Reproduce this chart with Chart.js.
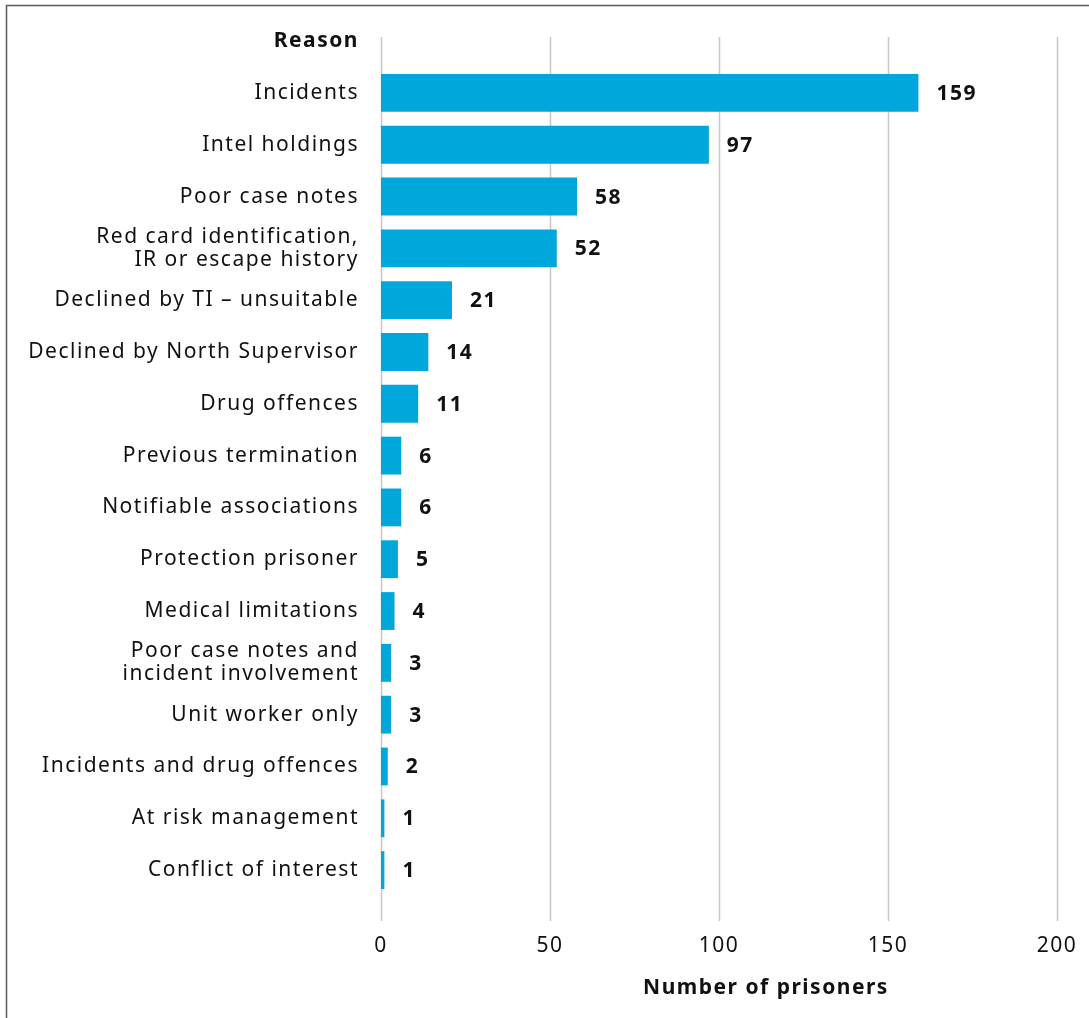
<!DOCTYPE html>
<html>
<head>
<meta charset="utf-8">
<script src="https://cdn.jsdelivr.net/npm/chart.js@4/dist/chart.umd.min.js"></script>
<style>
  html, body { margin: 0; padding: 0; background: #ffffff; }
  #wrap { width: 1089px; height: 1018px; position: relative; }
</style>
</head>
<body>
<div id="wrap"><canvas id="c" width="1089" height="1018"></canvas></div>
<script>
const categories = [
  "Incidents",
  "Intel holdings",
  "Poor case notes",
  ["Red card identification,", "IR or escape history"],
  "Declined by TI \u2013 unsuitable",
  "Declined by North Supervisor",
  "Drug offences",
  "Previous termination",
  "Notifiable associations",
  "Protection prisoner",
  "Medical limitations",
  ["Poor case notes and", "incident involvement"],
  "Unit worker only",
  "Incidents and drug offences",
  "At risk management",
  "Conflict of interest"
];
const prisoners = [159, 97, 58, 52, 21, 14, 11, 6, 6, 5, 4, 3, 3, 2, 1, 1];
const xTicks = [0, 50, 100, 150, 200];
const categoryHeader = "Reason";
const xTitle = "Number of prisoners";

const FONT = "'Noto Sans', sans-serif";
const FS = 21;
const SPACING = "1.5px";
const BAR_COLOR = "#00A7DA";
const GRID_COLOR = "#c8c8c8";

const overlay = {
  id: "overlay",
  beforeDraw(chart) {
    chart.ctx.letterSpacing = SPACING;
  },
  beforeDatasetsDraw(chart) {
    const ctx = chart.ctx;
    const xs = chart.scales.x;
    const ca = chart.chartArea;
    ctx.save();
    ctx.strokeStyle = GRID_COLOR;
    ctx.lineWidth = 1.5;
    xTicks.forEach(v => {
      const px = Math.round(xs.getPixelForValue(v)) + 0.5;
      ctx.beginPath();
      ctx.moveTo(px, ca.top - 30);
      ctx.lineTo(px, ca.bottom + 25);
      ctx.stroke();
    });
    ctx.restore();
  },
  afterDatasetsDraw(chart) {
    const ctx = chart.ctx;
    const meta = chart.getDatasetMeta(0);
    const ca = chart.chartArea;
    ctx.save();
    ctx.letterSpacing = SPACING;
    ctx.fillStyle = "#111111";
    ctx.font = "bold " + FS + "px " + FONT;
    ctx.textAlign = "left";
    ctx.textBaseline = "middle";
    meta.data.forEach((bar, i) => {
      ctx.fillText(String(prisoners[i]), bar.x + 18, bar.y + 1);
    });
    // header
    ctx.textAlign = "right";
    ctx.fillText(categoryHeader, ca.left - 22, ca.top - 26);
    // x title
    ctx.textAlign = "center";
    ctx.fillText(xTitle, 766, 988);
    // frame
    ctx.strokeStyle = "#5a5a5a";
    ctx.lineWidth = 1.5;
    ctx.strokeRect(6.5, 5.5, 3000, 3000);
    ctx.restore();
  }
};

new Chart(document.getElementById("c"), {
  type: "bar",
  data: {
    labels: categories,
    datasets: [{
      data: prisoners,
      backgroundColor: BAR_COLOR,
      borderWidth: 0,
      barPercentage: 0.73,
      categoryPercentage: 1.0
    }]
  },
  options: {
    indexAxis: "y",
    responsive: false,
    animation: false,
    devicePixelRatio: 1,
    layout: { padding: { top: 67, right: 32, bottom: 0, left: 0 } },
    plugins: { legend: { display: false }, tooltip: { enabled: false } },
    scales: {
      x: {
        min: 0, max: 200,
        border: { display: false },
        grid: { display: false },
        afterBuildTicks(scale) { scale.ticks = xTicks.map(v => ({ value: v })); },
        afterFit(scale) {
          scale.height = 122;
          scale.paddingLeft = 0;
          scale.paddingRight = 0;
        },
        ticks: {
          stepSize: 50,
          padding: 29,
          color: "#111111",
          font: { family: FONT, size: FS },
          maxRotation: 0
        }
      },
      y: {
        border: { display: false },
        grid: { display: false },
        afterFit(scale) {
          scale.width = 381;
          scale.paddingTop = 0;
          scale.paddingBottom = 0;
        },
        ticks: {
          padding: 14,
          color: "#111111",
          font: { family: FONT, size: FS, lineHeight: 1.1 },
          autoSkip: false
        }
      }
    }
  },
  plugins: [overlay]
});
</script>
</body>
</html>
